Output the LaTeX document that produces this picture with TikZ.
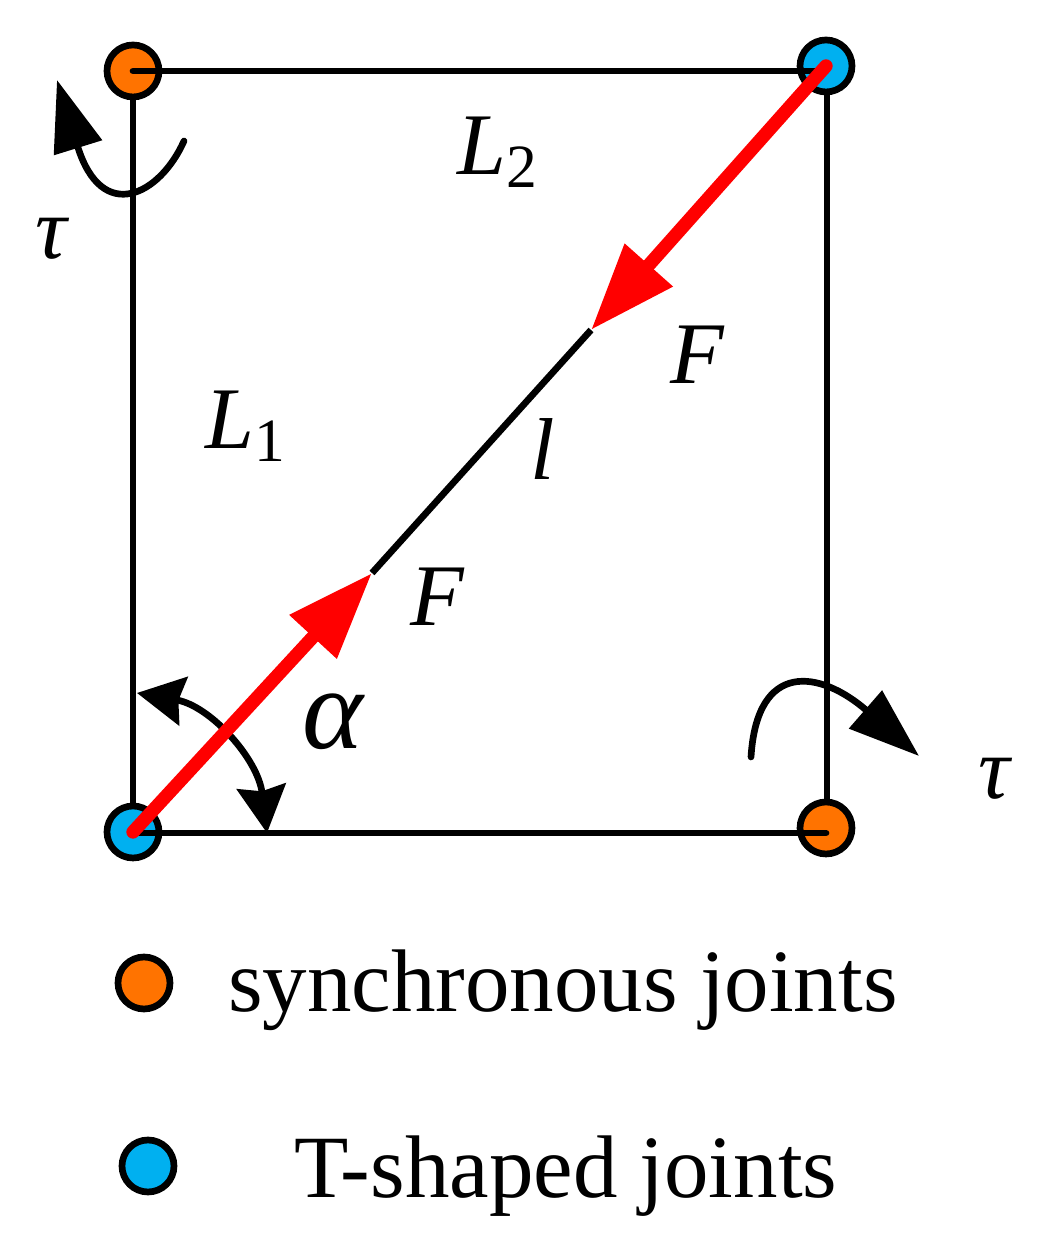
\documentclass[tikz,border=0pt]{standalone}
\usepackage{fontspec}
\setmainfont{Liberation Serif}
\usetikzlibrary{arrows.meta}
\definecolor{syncorange}{HTML}{FF7300}
\definecolor{tblue}{HTML}{00B0F0}
\tikzset{
  joint/.style={circle, draw, line width=1.9pt, inner sep=0pt, minimum size=.52cm},
  sync/.style={joint, fill=syncorange},
  tee/.style={joint, fill=tblue},
  force/.style={red, line width=3.8pt, line cap=round, -{Triangle[length=.87cm, width=.61cm]}},
  torque/.style={line cap=round, -{Triangle[length=.71cm, width=.49cm]}},
  symb/.style={font=\fontsize{25}{30}\selectfont\itshape},
  legend/.style={font=\fontsize{25.3}{30}\selectfont, anchor=base},
}
\begin{document}
\begin{tikzpicture}[line width=1.9pt]
  \useasboundingbox (0,0) rectangle (10.4,12.45);
  \coordinate (anglea) at (1.37,5.52);
  \coordinate (angleb) at (2.67,4.12);
  \coordinate (tipa) at (3.72,6.72);
  \coordinate (tipb) at (5.91,9.15);
  \coordinate (topright) at (8.26,11.74);
  \draw (1.33,11.74) -- (1.33,4.12);
  \draw (8.27,11.79) -- (8.27,4.17);
  \node[sync] (tl) at (1.33,11.74) {};
  \node[tee] (tr) at (8.26,11.79) {};
  \node[tee] (bl) at (1.33,4.13) {};
  \node[sync] (br) at (8.26,4.17) {};
  \draw[line cap=round] (tl.center) -- (topright);
  \draw[line cap=round] (1.33,4.12) -- (8.26,4.12);
  \draw (tipa) -- (tipb);
  \draw[{Stealth[length=.47cm, width=.49cm, inset=.05cm]}-{Stealth[length=.47cm, width=.49cm, inset=.05cm]}]
    (anglea) to [out=-10, in=97] (angleb);
  \draw[force] (bl.center) -- (tipa);
  \draw[force] (tr.center) -- (tipb);
  \draw[torque] (1.84,11.04) .. controls (1.60,10.50) and (1.02,10.20) .. (.57,11.65);
  \draw[torque] (7.51,4.88) .. controls (7.57,5.85) and (8.20,5.75) .. (9.19,4.89);
  \node[symb] (tauleft) at (.51,10.06) {τ};
  \node[symb] (tauright) at (9.94,4.66) {τ};
  \node[symb] (len2) at (4.98,10.93) {L\textsubscript{\upshape 2}};
  \node[symb] (len1) at (2.46,8.19) {L\textsubscript{\upshape 1}};
  \node[symb] (forceb) at (6.97,8.90) {F};
  \node[symb] (forcea) at (4.37,6.48) {F};
  \node[symb] (rod) at (5.43,7.96) {l};
  \node[symb, font=\fontsize{33}{36}\selectfont\itshape] (angle) at (3.33,5.23) {α};
  \node[sync] (keysync) at (1.44,2.62) {};
  \node[tee] (keytee) at (1.48,.79) {};
  \node[legend] (labelsync) at (5.63,2.33) {synchronous joints};
  \node[legend] (labeltee) at (5.66,.48) {T-shaped joints};
\end{tikzpicture}
\end{document}
